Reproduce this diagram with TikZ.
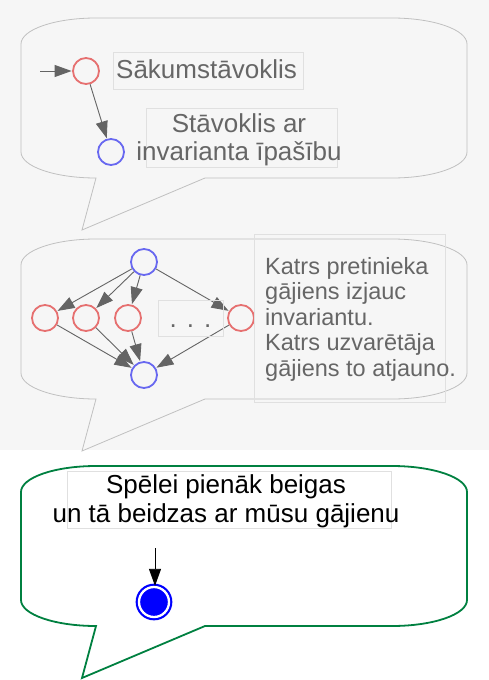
\documentclass[tikz,border=0pt]{standalone}
\usepackage{fontspec}
\setmainfont{Liberation Sans}
\usetikzlibrary{arrows.meta}
\definecolor{fona}{RGB}{246,246,246}
\definecolor{burbpel}{RGB}{192,192,192}
\definecolor{zals}{RGB}{0,128,64}
\definecolor{sarkans}{RGB}{230,112,112}
\definecolor{zilais}{RGB}{104,104,240}
\definecolor{pelek}{RGB}{100,100,100}
\definecolor{ramja}{RGB}{224,224,224}
\definecolor{tekst}{RGB}{102,102,102}

\begin{document}
\begin{tikzpicture}[x=1pt,y=-1pt,
  stav/.style={circle,draw,line width=1.8pt,minimum size=26pt,inner sep=0pt},
  sark/.style={stav,draw=sarkans},
  zils/.style={stav,draw=zilais},
  pel/.style={draw=pelek,line width=0.9pt,-{Triangle[length=17pt,width=12pt]},shorten >=0.5pt},
  ramis/.style={draw=ramja,line width=0.6pt,inner sep=0pt},
  teksts/.style={text=tekst,inner sep=0pt,font=\fontsize{26}{28}\selectfont}]

\useasboundingbox (0,0) rectangle (489,680);
\fill[fona] (0,0) rectangle (489,450);

% Burbuli
\foreach \yy/\kr/\lw in {18/burbpel/0.8, 239/burbpel/0.8, 466/zals/1.8}{
  \draw[draw=\kr,line width=\lw pt,shift={(0,\yy)}] (21,26) -- (21,134)
    .. controls (21,148.4) and (54.6,160) .. (96,160) -- (82,212) -- (205,160)
    -- (392,160) .. controls (433.4,160) and (467,148.4) .. (467,134)
    -- (467,26) .. controls (467,11.6) and (433.4,0) .. (392,0)
    -- (96,0) .. controls (54.6,0) and (21,11.6) .. (21,26) -- cycle;
}

% Burbulis 1
\coordinate (iee) at (40,71);
\node[sark] (sak) at (86,71) {};
\node[zils] (inv) at (111,152) {};
\draw[pel] (iee) -- (sak);
\draw[pel] (sak) -- (inv);
\node[ramis,minimum width=190pt,minimum height=37pt] (r1) at (208,70.5) {};
\node[teksts,anchor=base west] (t1) at (116,78) {Sākumstāvoklis};
\node[ramis,minimum width=191pt,minimum height=59pt] (r2) at (241.5,137.5) {};
\node[teksts,align=center,anchor=base] (t2) at (239,160) {Stāvoklis ar\\invarianta īpašību};

% Burbulis 2
\node[zils] (aug) at (144,262) {};
\node[sark] (s1) at (45,318) {};
\node[sark] (s2) at (86,318) {};
\node[sark] (s3) at (128,318) {};
\node[sark] (s4) at (241,318) {};
\node[zils] (lej) at (144,375) {};
\foreach \s in {s1,s2,s3,s4}{
  \draw[pel] (aug) -- (\s);
  \draw[pel] (\s) -- (lej);
}
\node[ramis,minimum width=65pt,minimum height=36pt] (r3) at (190.5,318) {};
\node[teksts,anchor=base] (punkti) at (190.5,327) {.\hspace{10pt}.\hspace{10pt}.};
\node[ramis,minimum width=191pt,minimum height=168pt] (r4) at (349.5,318) {};
\node[teksts,font=\fontsize{23.5}{25.5}\selectfont,align=left,anchor=base west] (t4) at (265,376)
  {Katrs pretinieka\\gājiens izjauc\\invariantu.\\Katrs uzvarētāja\\gājiens to atjauno.};

% Burbulis 3
\node[ramis,minimum width=324pt,minimum height=57pt] (r5) at (229,499.5) {};
\node[teksts,text=black,font=\fontsize{26}{29}\selectfont,align=center,anchor=base] (t5) at (226,522)
  {Spēlei pienāk beigas\\un tā beidzas ar mūsu gājienu};
\node[circle,draw=blue,fill=blue,line width=2.2pt,double=white,double distance=2.3pt,
  minimum size=30pt,inner sep=0pt] (beig) at (154,602) {};
\coordinate (bsak) at (155,548);
\draw[line width=0.8pt,-{Triangle[length=17pt,width=12pt]}] (bsak) -- (bsak |- beig.north);

\end{tikzpicture}
\end{document}
